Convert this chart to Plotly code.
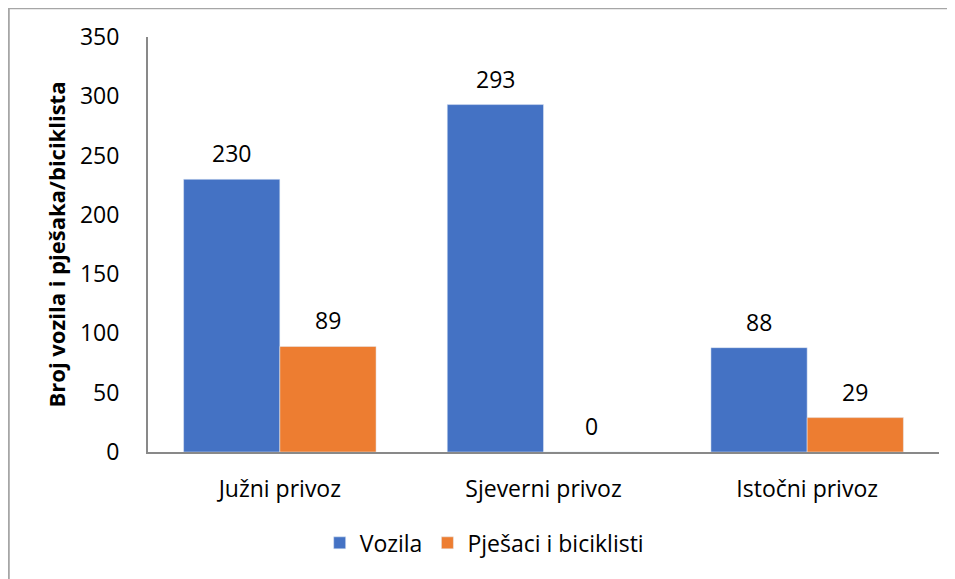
import plotly.graph_objects as go

categories = ["Južni privoz", "Sjeverni privoz", "Istočni privoz"]
vozila = [230, 293, 88]
pjesaci = [89, 0, 29]
series_names = ["Vozila", "Pješaci i biciklisti"]
y_title = "Broj vozila i pješaka/biciklista"

FONT = "Open Sans"
FS = 23
fig = go.Figure()
fig.add_trace(go.Bar(x=categories, y=vozila, name=series_names[0], marker_color="#4472C4"))
fig.add_trace(go.Bar(x=categories, y=pjesaci, name=series_names[1], marker_color="#ED7D31"))

# data labels above the bars
for vals, shift in ((vozila, -48), (pjesaci, 48)):
    for c, v in zip(categories, vals):
        fig.add_annotation(x=c, y=v, xref="x", yref="y", text=str(v), showarrow=False,
                           xshift=shift, yshift=26, yanchor="middle",
                           font=dict(size=FS, color="#000000"))

fig.update_layout(
    width=955, height=579,
    margin=dict(l=140, r=24, t=29, b=135, autoexpand=False),
    paper_bgcolor="white", plot_bgcolor="white",
    font=dict(family=FONT, size=FS, color="#000000"),
    barmode="group", bargap=0.27, bargroupgap=0,
    showlegend=True,
    legend=dict(orientation="h", x=0.425, xanchor="center", y=-0.219, yanchor="middle",
                font=dict(size=FS), traceorder="normal"),
    xaxis=dict(showline=True, linecolor="#898989", linewidth=2, ticks="", showgrid=False,
               tickfont=dict(size=FS), automargin=False, ticklabelstandoff=15),
    yaxis=dict(range=[0, 350], dtick=50, showline=True, linecolor="#898989", linewidth=2,
               showgrid=False, ticks="", tickfont=dict(size=FS), ticklabelstandoff=22,
               automargin=False,
               title=dict(text="<b>" + y_title + "</b>", font=dict(size=22), standoff=8)),
)
fig.add_shape(type="rect", xref="paper", yref="paper", x0=-0.176, x1=1.029, y0=-0.322, y1=1.069,
              line=dict(color="#A6A6A6", width=2), fillcolor="rgba(0,0,0,0)", layer="below")
fig.write_html("out.html")
